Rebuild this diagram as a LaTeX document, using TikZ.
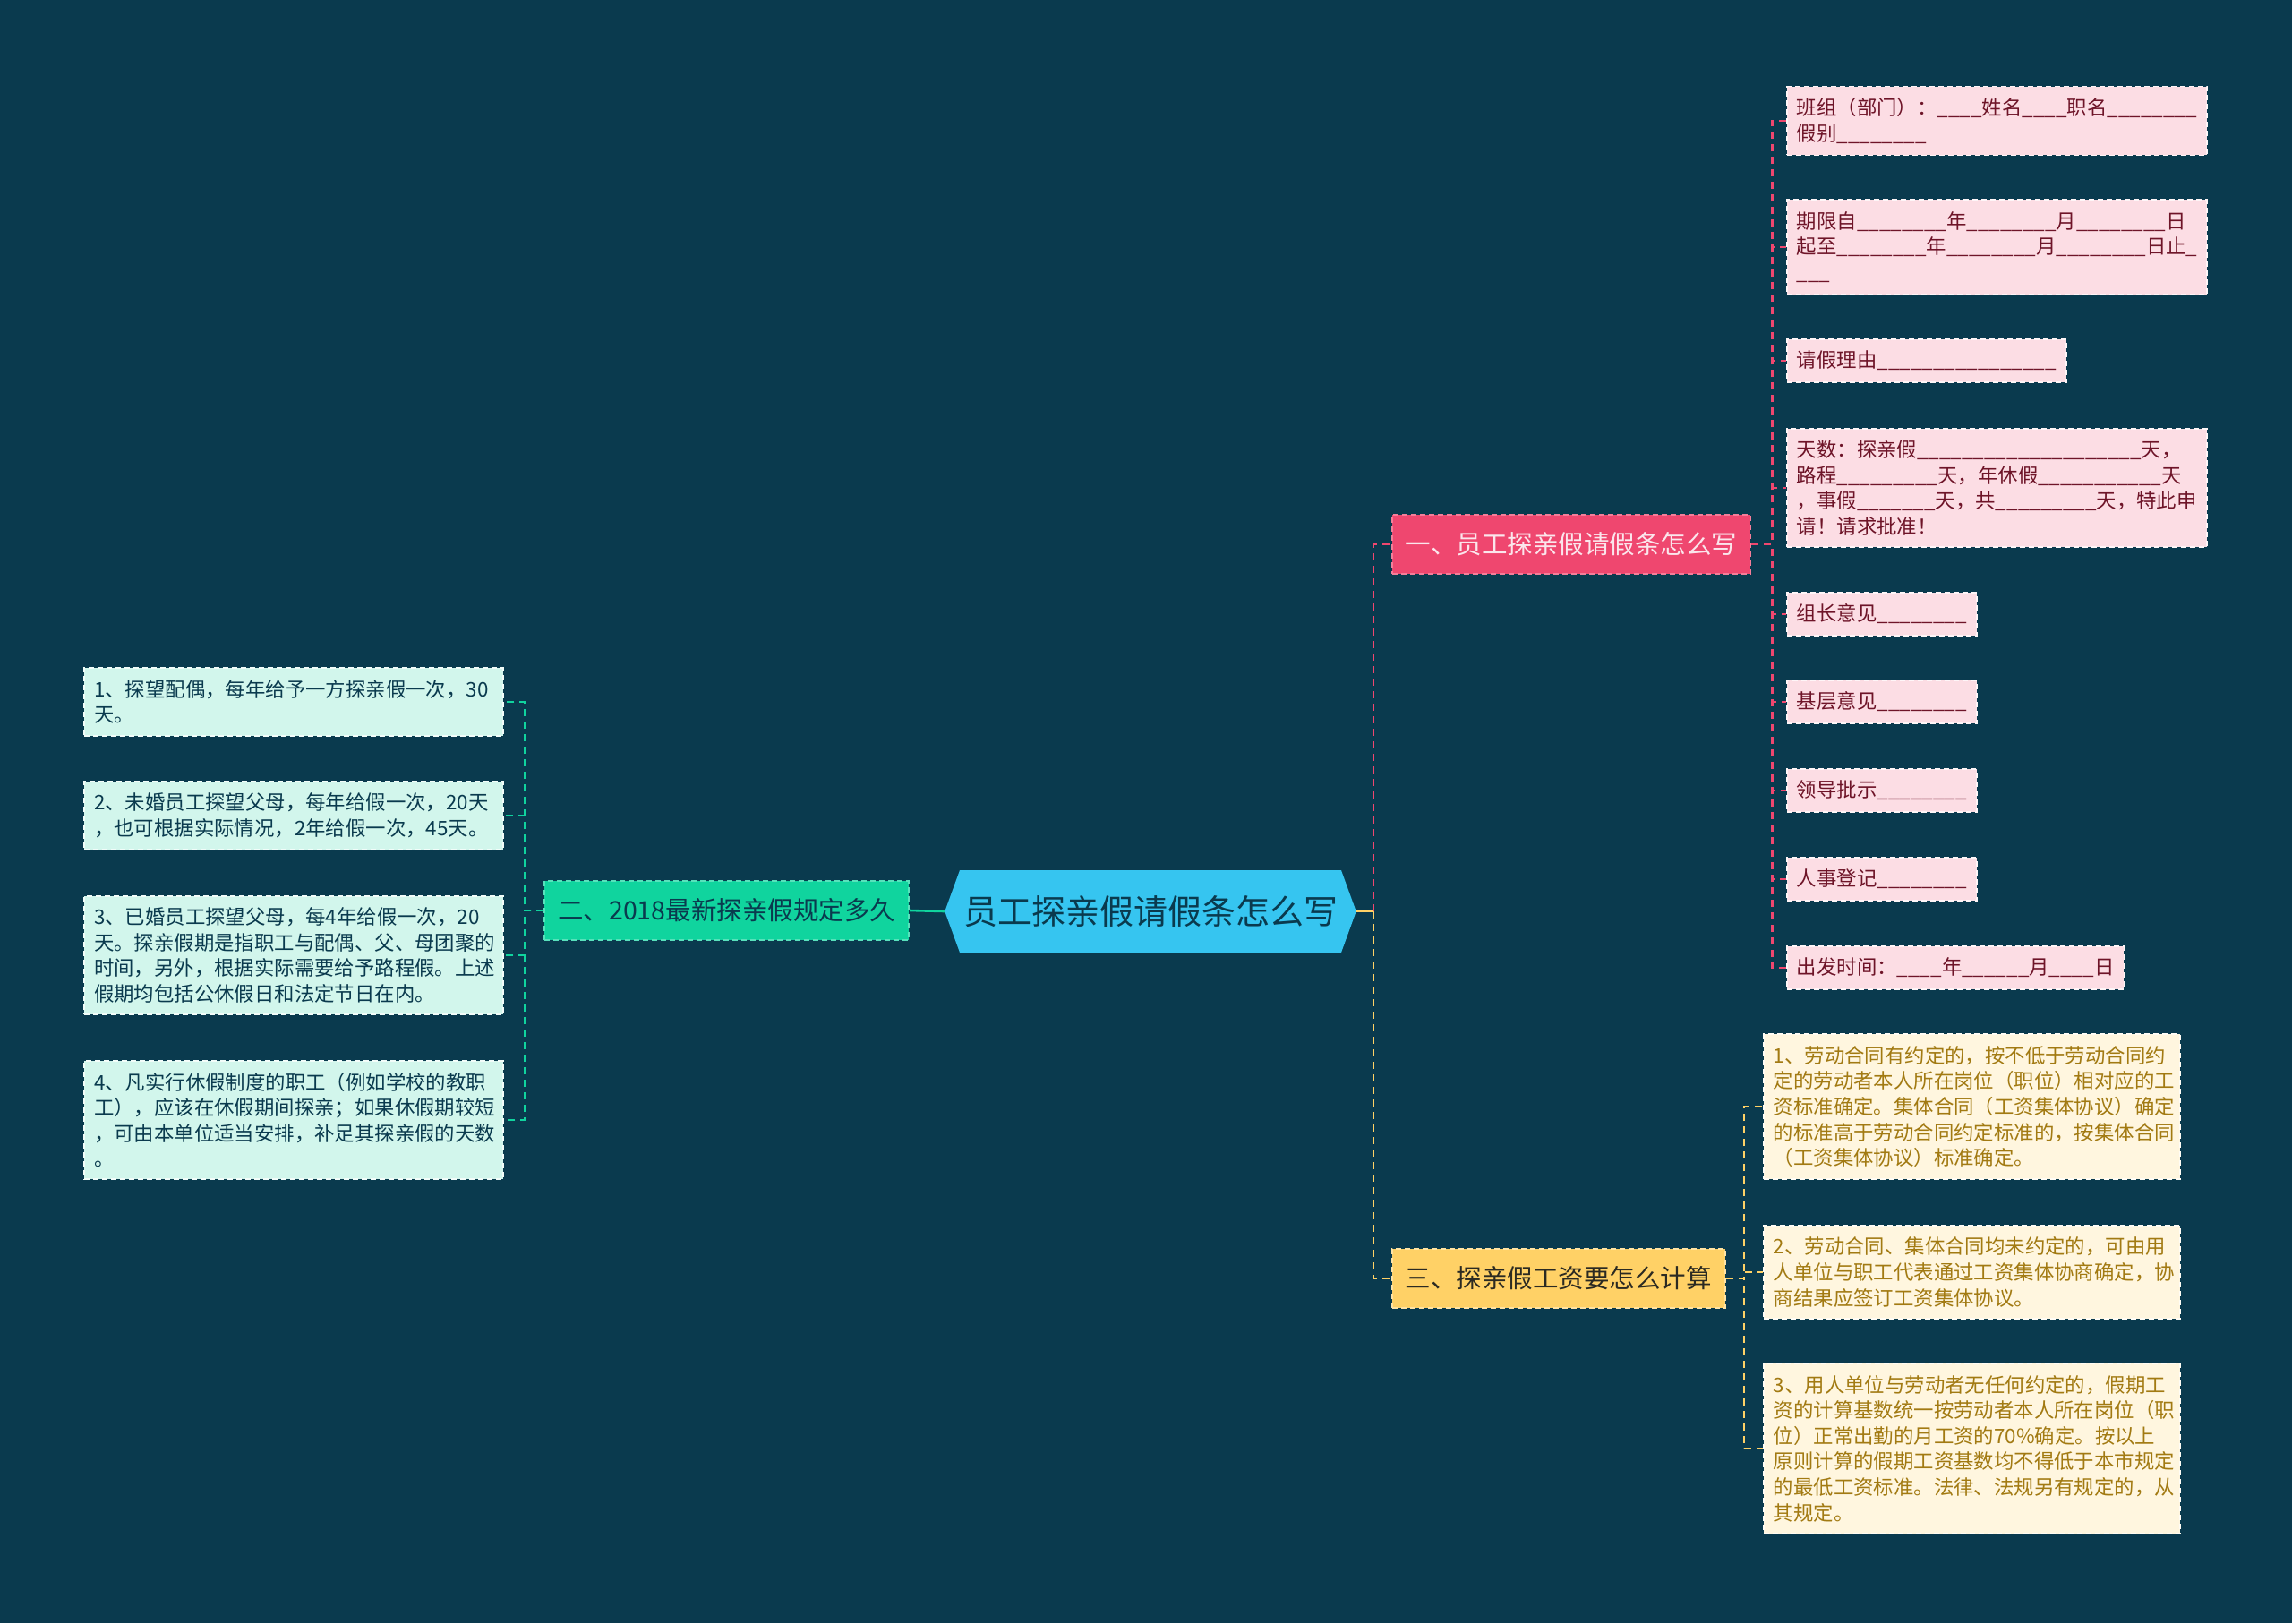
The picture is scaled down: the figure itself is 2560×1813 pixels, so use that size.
\documentclass[tikz,border=0pt]{standalone}
\usepackage{fontspec}
\setmainfont{Noto Sans CJK SC}
\usetikzlibrary{shapes.symbols}
\definecolor{Bg}{HTML}{0A3A4E}
\definecolor{RootBlue}{HTML}{36C5F0}
\definecolor{Ink}{HTML}{0A3A4E}
\definecolor{MintDeep}{HTML}{10D49E}
\definecolor{MintSoft}{HTML}{D2F6EC}
\definecolor{RoseDeep}{HTML}{EF476F}
\definecolor{RoseSoft}{HTML}{FCDDE4}
\definecolor{RoseInk}{HTML}{6E1428}
\definecolor{RoseText}{HTML}{FBE6EC}
\definecolor{SunDeep}{HTML}{FFD166}
\definecolor{SunSoft}{HTML}{FFF6DF}
\definecolor{SunInk}{HTML}{A27A12}
\definecolor{SunText}{HTML}{2B2A22}
\newcommand\leaffont{\fontsize{22.4pt}{28.6pt}\selectfont}
\newcommand\blanks[1]{\foreach\k in {1,...,#1}{\_}}
\tikzset{
  root/.style={shape=signal,signal to=west and east,signal pointer angle=140,fill=RootBlue,text=Ink,
    font=\fontsize{38pt}{46pt}\selectfont,minimum height=92pt,inner xsep=4pt,inner ysep=0pt},
  box/.style={rectangle,line width=1.8pt,dash pattern=on 6pt off 4pt},
  branch/.style={box,minimum height=66pt,inner xsep=15pt,inner ysep=0pt,font=\fontsize{28.5pt}{34pt}\selectfont},
  brG/.style={branch,fill=MintDeep,draw=MintDeep!70!white,text=Ink},
  brP/.style={branch,fill=RoseDeep,draw=RoseDeep!70!white,text=RoseText},
  brY/.style={branch,fill=SunDeep,draw=SunDeep!60!white,text=SunText},
  leaf/.style={box,inner xsep=11pt,inner ysep=13pt,align=left,font=\leaffont},
  leafG/.style={leaf,fill=MintSoft,draw=white!70!MintSoft,text=Ink},
  leafP/.style={leaf,fill=RoseSoft,draw=white!70!RoseSoft,text=RoseInk},
  leafY/.style={leaf,fill=SunSoft,draw=white!70!SunSoft,text=SunInk},
  ln/.style={line width=2.6pt,dash pattern=on 8pt off 6pt},
  lnG/.style={ln,draw=MintDeep},
  lnP/.style={ln,draw=RoseDeep},
  lnY/.style={ln,draw=SunDeep},
}
\begin{document}
\begin{tikzpicture}[x=1pt,y=-1pt]
\fill[Bg] (0,0) rectangle (2560,1813);
\useasboundingbox (0,0) rectangle (2560,1813);
% centre and branches
\node[root] (root) at (1285,1018) {员工探亲假请假条怎么写};
\node[brG,anchor=east] (b2) at (1016,1017) {二、2018最新探亲假规定多久};
\node[brP,anchor=west] (b1) at (1554,608) {一、员工探亲假请假条怎么写};
\node[brY,anchor=west] (b3) at (1554,1428) {三、探亲假工资要怎么计算};
\coordinate (rj) at (1534,1018);
% left leaves
\node[leafG,text width=446pt,anchor=east] (g1) at (563,784) {1、探望配偶，每年给予一方探亲假一次，30\\天。};
\node[leafG,text width=446pt,anchor=east] (g2) at (563,911) {2、未婚员工探望父母，每年给假一次，20天\\，也可根据实际情况，2年给假一次，45天。};
\node[leafG,text width=446pt,anchor=east] (g3) at (563,1067) {3、已婚员工探望父母，每4年给假一次，20\\天。探亲假期是指职工与配偶、父、母团聚的\\时间，另外，根据实际需要给予路程假。上述\\假期均包括公休假日和法定节日在内。};
\node[leafG,text width=446pt,anchor=east] (g4) at (563,1251) {4、凡实行休假制度的职工（例如学校的教职\\工），应该在休假期间探亲；如果休假期较短\\，可由本单位适当安排，补足其探亲假的天数\\。};
% right leaves, form
\node[leafP,text width=447pt,anchor=west] (p1) at (1995,135) {班组（部门）：\blanks{4}姓名\blanks{4}职名\blanks{8}\\假别\blanks{8}};
\node[leafP,text width=447pt,anchor=west] (p2) at (1995,276) {期限自\blanks{8}年\blanks{8}月\blanks{8}日\\起至\blanks{8}年\blanks{8}月\blanks{8}日止\blanks{1}\\\blanks{3}};
\node[leafP,anchor=west] (p3) at (1995,403) {请假理由\blanks{16}};
\node[leafP,text width=447pt,anchor=west] (p4) at (1995,545) {天数：探亲假\blanks{20}天，\\路程\blanks{9}天，年休假\blanks{11}天\\，事假\blanks{7}天，共\blanks{9}天，特此申\\请！请求批准！};
\node[leafP,anchor=west] (p5) at (1995,686) {组长意见\blanks{8}};
\node[leafP,anchor=west] (p6) at (1995,784) {基层意见\blanks{8}};
\node[leafP,anchor=west] (p7) at (1995,883) {领导批示\blanks{8}};
\node[leafP,anchor=west] (p8) at (1995,982) {人事登记\blanks{8}};
\node[leafP,anchor=west] (p9) at (1995,1081) {出发时间：\blanks{4}年\blanks{6}月\blanks{4}日};
% right leaves, wages
\node[leafY,text width=443pt,anchor=west] (y1) at (1969,1236) {1、劳动合同有约定的，按不低于劳动合同约\\定的劳动者本人所在岗位（职位）相对应的工\\资标准确定。集体合同（工资集体协议）确定\\的标准高于劳动合同约定标准的，按集体合同\\（工资集体协议）标准确定。};
\node[leafY,text width=443pt,anchor=west] (y2) at (1969,1421) {2、劳动合同、集体合同均未约定的，可由用\\人单位与职工代表通过工资集体协商确定，协\\商结果应签订工资集体协议。};
\node[leafY,text width=443pt,anchor=west] (y3) at (1969,1618) {3、用人单位与劳动者无任何约定的，假期工\\资的计算基数统一按劳动者本人所在岗位（职\\位）正常出勤的月工资的70\%确定。按以上\\原则计算的假期工资基数均不得低于本市规定\\的最低工资标准。法律、法规另有规定的，从\\其规定。};
% connectors
\draw[lnG,solid] (root.west) -- (b2.east);
\draw[lnY,solid] (root.east) -- (rj);
\draw[lnP] (rj) |- (b1.west);
\draw[lnY] (rj) |- (b3.west);
\draw[lnG] (b2.west) -- ++(-21,0) |- (g1.east);
\draw[lnG] (b2.west) -- ++(-21,0) |- (g2.east);
\draw[lnG] (b2.west) -- ++(-21,0) |- (g3.east);
\draw[lnG] (b2.west) -- ++(-21,0) |- (g4.east);
\draw[lnP] (b1.east) -- ++(23,0) |- (p1.west);
\draw[lnP] (b1.east) -- ++(23,0) |- (p2.west);
\draw[lnP] (b1.east) -- ++(23,0) |- (p3.west);
\draw[lnP] (b1.east) -- ++(23,0) |- (p4.west);
\draw[lnP] (b1.east) -- ++(23,0) |- (p5.west);
\draw[lnP] (b1.east) -- ++(23,0) |- (p6.west);
\draw[lnP] (b1.east) -- ++(23,0) |- (p7.west);
\draw[lnP] (b1.east) -- ++(23,0) |- (p8.west);
\draw[lnP] (b1.east) -- ++(23,0) |- (p9.west);
\draw[lnY] (b3.east) -- ++(20,0) |- (y1.west);
\draw[lnY] (b3.east) -- ++(20,0) |- (y2.west);
\draw[lnY] (b3.east) -- ++(20,0) |- (y3.west);
\end{tikzpicture}
\end{document}
